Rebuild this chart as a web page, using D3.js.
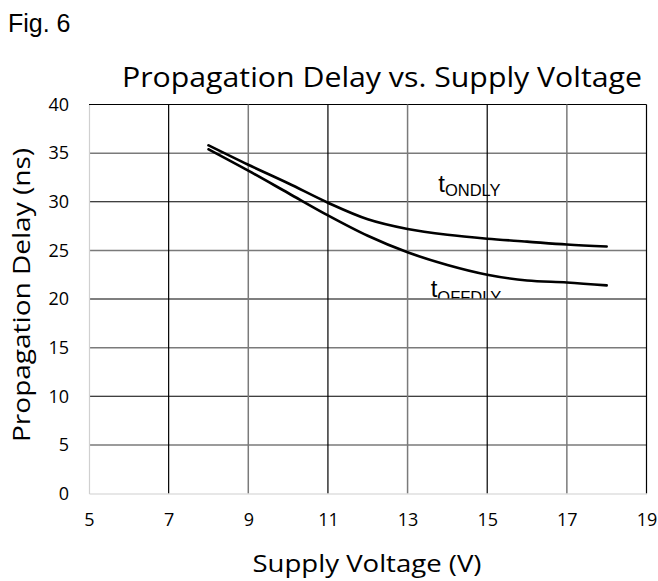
<!DOCTYPE html>
<html>
<head>
<meta charset="utf-8">
<script src="https://cdn.jsdelivr.net/npm/d3@7"></script>
<style>
  body { margin: 0; background: #fff; }
  svg { display: block; }
</style>
</head>
<body>
<div id="chart"></div>
<script>
// values
var voltage = [8, 9, 10, 11, 12, 13, 14, 15, 16, 17, 18];
var tOnDly  = [35.8, 33.8, 31.9, 29.9, 28.2, 27.2, 26.6, 26.2, 25.9, 25.6, 25.4];
var tOffDly = [35.4, 33.2, 30.9, 28.6, 26.5, 24.8, 23.5, 22.5, 21.9, 21.7, 21.4];
var xTicks = [5, 7, 9, 11, 13, 15, 17, 19];
var yTicks = [0, 5, 10, 15, 20, 25, 30, 35, 40];

var width = 658, height = 581;
var plotL = 89, plotR = 646.5, plotT = 104.5, plotB = 493.5;

var svg = d3.select("#chart").append("svg")
    .attr("width", width).attr("height", height);

var x = d3.scaleLinear().domain([5, 19]).range([plotL, plotR]);
var y = d3.scaleLinear().domain([0, 40]).range([plotB, plotT]);

// fig number + title
svg.append("text")
    .attr("x", 8).attr("y", 32)
    .style("font-family", "Liberation Sans, Arial, sans-serif")
    .style("font-size", "25px")
    .text("Fig. 6");

svg.append("text")
    .attr("x", 382).attr("y", 87)
    .attr("text-anchor", "middle")
    .attr("textLength", 520).attr("lengthAdjust", "spacingAndGlyphs")
    .style("font-family", "Open Sans, sans-serif")
    .style("font-size", "27px")
    .text("Propagation Delay vs. Supply Voltage");

// gridlines (every other one prints darker in the original)
var grid = svg.append("g");
grid.selectAll(".hg")
  .data(yTicks.filter(d => d > 0))
  .join("line")
    .attr("x1", plotL).attr("x2", plotR)
    .attr("y1", d => y(d)).attr("y2", d => y(d))
    .attr("stroke", d => d % 10 == 0 ? "#000" : "#7a7a7a")
    .attr("stroke-width", d => d % 10 == 0 ? 1.2 : 1.5);

grid.selectAll(".vg")
  .data(xTicks.filter(d => d > 5))
  .join("line")
    .attr("y1", plotT).attr("y2", plotB)
    .attr("x1", d => x(d)).attr("x2", d => x(d))
    .attr("stroke", d => (d - 7) % 4 == 0 ? "#000" : "#7a7a7a")
    .attr("stroke-width", d => (d - 7) % 4 == 0 ? 1.2 : 1.5);

// axis lines
var yAxis = svg.append("g")
    .attr("transform", `translate(${plotL},0)`)
    .call(d3.axisLeft(y).tickValues(yTicks).tickSize(0).tickPadding(20));
var xAxis = svg.append("g")
    .attr("transform", `translate(0,${plotB})`)
    .call(d3.axisBottom(x).tickValues(xTicks).tickSize(0).tickPadding(20));

[xAxis, yAxis].forEach(a => {
  a.select(".domain").attr("stroke", "#d0d0d0").attr("stroke-width", 1.2);
  a.selectAll("text")
    .style("font-family", "Open Sans, sans-serif")
    .style("font-size", "18px")
    .attr("fill", "#000");
});

// axis titles
svg.append("text")
    .attr("x", 367).attr("y", 572)
    .attr("text-anchor", "middle")
    .attr("textLength", 229).attr("lengthAdjust", "spacingAndGlyphs")
    .style("font-family", "Open Sans, sans-serif")
    .style("font-size", "24px")
    .text("Supply Voltage (V)");

svg.append("text")
    .attr("transform", "translate(30,295) rotate(-90)")
    .attr("text-anchor", "middle")
    .attr("textLength", 294).attr("lengthAdjust", "spacingAndGlyphs")
    .style("font-family", "Open Sans, sans-serif")
    .style("font-size", "24px")
    .text("Propagation Delay (ns)");

// curves
var line = d3.line()
    .x((d, i) => x(voltage[i]))
    .y(d => y(d))
    .curve(d3.curveMonotoneX);

[tOnDly, tOffDly].forEach(s => {
  svg.append("path")
      .attr("d", line(s))
      .attr("fill", "none")
      .attr("stroke", "#000")
      .attr("stroke-width", 2.6)
      .attr("stroke-linecap", "round");
});

// curve labels
svg.append("clipPath").attr("id", "offclip")
  .append("rect").attr("x", 0).attr("y", 0)
    .attr("width", width).attr("height", y(20) - 0.5);

function curveLabel(sub, vx, vy, subDy, clip) {
  var t = svg.append("text")
      .attr("x", x(vx)).attr("y", y(vy))
      .style("font-family", "Liberation Sans, Arial, sans-serif")
      .style("font-size", "24px");
  if (clip) t.attr("clip-path", "url(#offclip)");
  t.append("tspan").text("t");
  t.append("tspan").attr("dy", subDy).style("font-size", "16.5px").text(sub);
}
curveLabel("ONDLY", 13.77, 31.0, 3.5, false);
curveLabel("OFFDLY", 13.58, 20.2, 6, true);
</script>
</body>
</html>
